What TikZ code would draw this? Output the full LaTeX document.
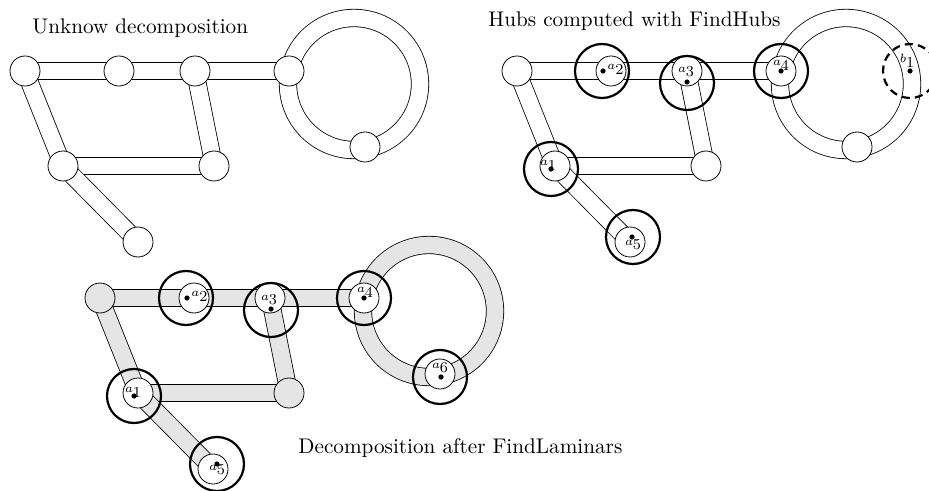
\documentclass[tikz,border=0pt]{standalone}
\newcommand\hlab[1]{\raisebox{2.2pt}{\fontsize{6}{7}\selectfont$a$}\kern-0.1pt{\fontsize{7.6}{9}\selectfont #1}}
\newcommand\blab[1]{\raisebox{2.2pt}{\fontsize{6}{7}\selectfont$b$}\kern-0.1pt{\fontsize{7.6}{9}\selectfont #1}}
\begin{document}
\begin{tikzpicture}[x=0.5pt,y=-0.5pt,
  band/.style={draw=black, line width=0.4pt, double=white, double distance=8.3pt},
  gband/.style={band, double=gray!20},
  vtx/.style={circle, draw, fill=white, minimum size=15pt, inner sep=0pt, line width=0.4pt},
  gvtx/.style={vtx, fill=gray!20},
  hub/.style={circle, draw, line width=1.1pt, minimum size=27pt, inner sep=0pt},
  dhub/.style={hub, dash pattern=on 4pt off 2.6pt},
  dotn/.style={circle, fill=black, inner sep=0pt, minimum size=2.6pt},
  lab/.style={inner sep=0pt},
  ttl/.style={anchor=base west, inner sep=0pt, font=\fontsize{10.6}{12}\selectfont}]
\useasboundingbox (0,0) rectangle (929,491);

% ---------- Panel 1 ----------
\node[ttl] (t1) at (32,34) {Unknow decomposition};
\coordinate (pO) at (354,84);
\draw[band] (pO) circle [radius=33pt];
\coordinate (pA) at (25,71);
\coordinate (pB) at (119,71);
\coordinate (pC) at (195,71);
\coordinate (pD) at (289,71);
\coordinate (pE) at (63,166);
\coordinate (pF) at (214,166);
\coordinate (pG) at (138,242);
\coordinate (pH) at (365,147);
\draw[band] (pA) -- (pB);
\draw[band] (pB) -- (pC);
\draw[band] (pC) -- (pD);
\draw[band] (pA) -- (pE);
\draw[band] (pC) -- (pF);
\draw[band] (pE) -- (pF);
\draw[band] (pE) -- (pG);
\foreach \n in {A,B,C,D,E,F,G,H} \node[vtx] (pn\n) at (p\n) {};

% ---------- Panel 2 ----------
\node[ttl] (t2) at (488,27) {Hubs computed with FindHubs};
\begin{scope}[shift={(492,0)}]
\coordinate (qO) at (354,84);
\draw[band] (qO) circle [radius=33pt];
\coordinate (qA) at (25,71);
\coordinate (qB) at (119,71);
\coordinate (qC) at (195,71);
\coordinate (qD) at (289,71);
\coordinate (qE) at (63,166);
\coordinate (qF) at (214,166);
\coordinate (qG) at (138,242);
\coordinate (qH) at (365,147);
\draw[band] (qA) -- (qB);
\draw[band] (qB) -- (qC);
\draw[band] (qC) -- (qD);
\draw[band] (qA) -- (qE);
\draw[band] (qC) -- (qF);
\draw[band] (qE) -- (qF);
\draw[band] (qE) -- (qG);
\foreach \n in {A,B,C,D,E,F,G,H} \node[vtx] (qn\n) at (q\n) {};
\node[hub] (qh1) at (59,169) {};
\node[hub] (qh2) at (110,71) {};
\node[hub] (qh3) at (195,83) {};
\node[hub] (qh4) at (289,71) {};
\node[hub] (qh5) at (141,237) {};
\node[dhub] (qhb) at (418,71) {};
\node[dotn] (qd1) at (59,169) {};
\node[dotn] (qd2) at (111,71) {};
\node[dotn] (qd3) at (195,82) {};
\node[dotn] (qd4) at (289,71) {};
\node[dotn] (qd5) at (140,237) {};
\node[dotn] (qdb) at (418,71) {};
\node[lab, anchor=west] (ql2) at (115,69) {\hlab{2}};
\node[lab] (ql3) at (194,72) {\hlab{3}};
\node[lab] (ql4) at (289,65) {\hlab{4}};
\node[lab] (ql1) at (56,165) {\hlab{1}};
\node[lab] (ql5) at (141,245) {\hlab{5}};
\node[lab] (qlb) at (415,61) {\blab{1}};
\end{scope}

% ---------- Panel 3 ----------
\node[ttl] (t3) at (298,453) {Decomposition after FindLaminars};
\begin{scope}[shift={(75,227)}]
\coordinate (rO) at (354,84);
\draw[gband] (rO) circle [radius=33pt];
\coordinate (rA) at (25,71);
\coordinate (rB) at (119,71);
\coordinate (rC) at (195,71);
\coordinate (rD) at (289,71);
\coordinate (rE) at (63,166);
\coordinate (rF) at (214,166);
\coordinate (rG) at (138,242);
\coordinate (rH) at (365,147);
\draw[gband] (rA) -- (rB);
\draw[gband] (rB) -- (rC);
\draw[gband] (rC) -- (rD);
\draw[gband] (rA) -- (rE);
\draw[gband] (rC) -- (rF);
\draw[gband] (rE) -- (rF);
\draw[gband] (rE) -- (rG);
\node[gvtx] (rnA) at (rA) {};
\node[gvtx] (rnF) at (rF) {};
\foreach \n in {B,C,D,E,G,H} \node[vtx] (rn\n) at (r\n) {};
\node[hub] (rh1) at (59,169) {};
\node[hub] (rh2) at (111,71) {};
\node[hub] (rh3) at (196,83) {};
\node[hub] (rh4) at (289,71) {};
\node[hub] (rh5) at (142,237) {};
\node[hub] (rh6) at (365,150) {};
\node[dotn] (rd1) at (59,169) {};
\node[dotn] (rd2) at (112,71) {};
\node[dotn] (rd3) at (196,82) {};
\node[dotn] (rd4) at (289,71) {};
\node[dotn] (rd5) at (142,237) {};
\node[dotn] (rd6) at (366,150) {};
\node[lab, anchor=west] (rl2) at (116,69) {\hlab{2}};
\node[lab] (rl3) at (194,73) {\hlab{3}};
\node[lab] (rl4) at (290,65) {\hlab{4}};
\node[lab] (rl1) at (58,165) {\hlab{1}};
\node[lab] (rl5) at (142,243) {\hlab{5}};
\node[lab] (rl6) at (365,141) {\hlab{6}};
\end{scope}
\end{tikzpicture}
\end{document}
